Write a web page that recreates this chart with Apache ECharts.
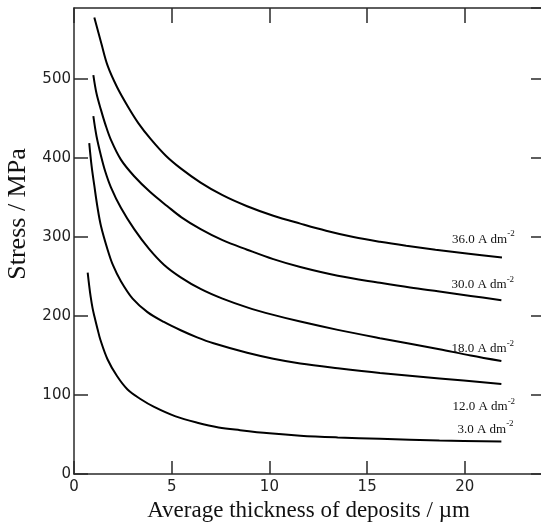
<!DOCTYPE html>
<html>
<head>
<meta charset="utf-8">
<script src="https://cdn.jsdelivr.net/npm/echarts@6/dist/echarts.min.js"></script>
<style>
html,body{margin:0;padding:0;background:#fff;}
#chart{width:541px;height:524px;}
</style>
</head>
<body>
<div id="chart"></div>
<script>
// Series: [thickness (µm), stress (MPa)]
const s36 = [[1.04,578],[1.4,545],[1.72,517],[2.2,490],[2.74,466],[3.3,444],[3.93,424],[4.7,403],[5.46,387],[6.48,369],[7.6,353],[8.86,339],[10.2,327],[11.58,317],[12.9,308],[14.3,300],[15.66,294],[17.0,289],[18.5,284],[20.2,279],[21.9,274]];
const s30 = [[0.99,505],[1.15,482],[1.38,461],[1.6,443],[1.89,423],[2.4,398],[3.08,377],[3.9,357],[4.78,339],[5.5,325],[6.48,310],[7.6,296],[8.86,284],[10.2,272],[11.58,262],[13.5,251],[15.66,242],[17.2,236],[18.7,231],[20.3,225.5],[21.87,220]];
const s18 = [[0.99,453],[1.15,428],[1.38,403],[1.6,383],[1.89,363],[2.4,337],[3.08,310],[3.84,285],[4.6,265],[5.46,249],[6.5,234],[7.6,222],[8.86,211],[10.2,201.5],[11.58,193],[13.5,182.5],[15.66,172],[17.2,165],[18.7,158],[20.3,150],[21.87,143]];
const s12 = [[0.78,419],[0.9,390],[1.04,365],[1.2,338],[1.38,314],[1.72,284],[2.0,264],[2.4,244],[3.0,222],[3.76,205],[4.6,192.5],[5.46,182],[6.3,173],[7.14,165.5],[8.86,153.5],[10.2,146],[11.58,140],[13.5,134],[15.66,128],[18.7,121],[21.87,114]];
const s3 = [[0.70,255],[0.78,238],[0.85,225],[0.95,210],[1.04,200],[1.2,184],[1.35,170],[1.72,145],[2.2,124],[2.74,107],[3.4,95],[4.1,85],[5.2,73],[6.31,65],[7.4,59],[8.5,55.5],[10.0,51.5],[11.58,48.5],[13.5,46.3],[15.66,44.5],[18.7,42.5],[21.87,41]];
const seriesNames = ['36.0 A dm','30.0 A dm','18.0 A dm','12.0 A dm','3.0 A dm'];
const seriesData = [s36, s30, s18, s12, s3];
const labelOffsets = [[-50,-20],[-50,-17],[-50,-14],[-49,21],[-44,-14]];
const xTicks = [0,5,10,15,20];
const yTicks = [0,100,200,300,400,500];

const chart = echarts.init(document.getElementById('chart'), null, {renderer:'canvas'});
const axisColor = '#2a2a2a';
const tickFont = {fontFamily:'DejaVu Sans', fontSize:15, color:'#222'};

const series = seriesData.map((d, i) => ({
  type:'line',
  name: seriesNames[i],
  data: d,
  showSymbol:false,
  symbol:'none',
  smooth:0.35,
  lineStyle:{color:'#000', width:2},
  silent:true,
  animation:false,
  endLabel:{
    show:true,
    distance:0,
    offset: labelOffsets[i],
    formatter: () => '{a|' + seriesNames[i] + '}{s|-2}',
    rich:{
      a:{fontFamily:'Liberation Serif', fontSize:13, color:'#111', lineHeight:16, verticalAlign:'bottom'},
      s:{fontFamily:'Liberation Serif', fontSize:9, color:'#111', lineHeight:16, verticalAlign:'top'}
    }
  }
}));

const lineOpt = {show:true, onZero:false, lineStyle:{color:axisColor, width:1.5}};

chart.setOption({
  animation:false,
  backgroundColor:'#fff',
  grid:{left:74, top:8, right:-2, bottom:50, containLabel:false, outerBoundsMode:'none'},
  xAxis:[{
    type:'value', min:0, max:24, interval:5,
    name:'Average thickness of deposits / \u00b5m',
    nameLocation:'middle', nameGap:18,
    nameTextStyle:{fontFamily:'Liberation Serif', fontSize:23, color:'#111'},
    axisLine:lineOpt,
    axisTick:{show:true, inside:true, length:13, lineStyle:{color:axisColor, width:1.5}},
    axisLabel:Object.assign({margin:6, showMaxLabel:false, formatter:v => xTicks.includes(v) ? String(v) : ''}, tickFont),
    splitLine:{show:false}
  },{
    type:'value', min:0, max:24, interval:5, position:'top',
    axisLine:lineOpt,
    axisTick:{show:true, inside:true, length:15, lineStyle:{color:axisColor, width:1.5}},
    axisLabel:{show:false}, splitLine:{show:false}
  }],
  yAxis:[{
    type:'value', min:0, max:590, interval:100,
    name:'Stress / MPa',
    nameLocation:'middle', nameGap:31,
    nameTextStyle:{fontFamily:'Liberation Serif', fontSize:26, color:'#111', padding:[0,0,0,54]},
    axisLine:lineOpt,
    axisTick:{show:true, inside:true, length:14, lineStyle:{color:axisColor, width:1.5}},
    axisLabel:Object.assign({margin:3, showMaxLabel:false, formatter:v => yTicks.includes(v) ? String(v) : ''}, tickFont),
    splitLine:{show:false}
  },{
    type:'value', min:0, max:590, interval:100, position:'right',
    axisLine:{show:false, onZero:false},
    axisTick:{show:true, inside:true, length:12, lineStyle:{color:axisColor, width:1.5}},
    axisLabel:{show:false}, splitLine:{show:false}
  }],
  series: series
});
</script>
</body>
</html>
